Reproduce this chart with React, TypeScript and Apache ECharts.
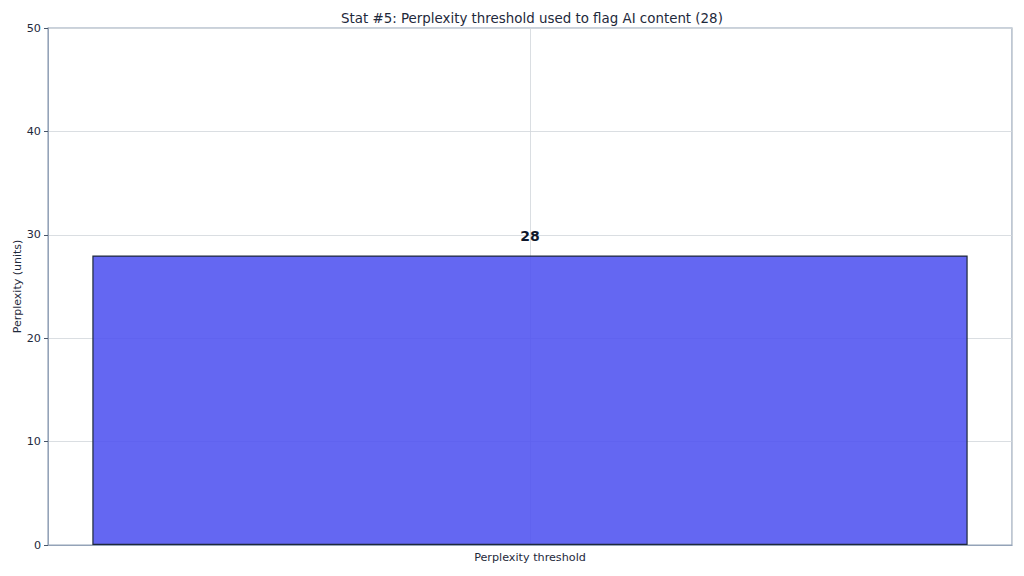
import { useEffect, useRef } from "react"
import * as echarts from "echarts"

const categories = ["Perplexity threshold"]
const values = [28]
const yTicks = { min: 0, max: 50, interval: 10 }

export default function App() {
  const chartRef = useRef<HTMLDivElement>(null)

  useEffect(() => {
    if (!chartRef.current) return
    const chart = echarts.init(chartRef.current, null, { renderer: "svg" })

    const font = "DejaVu Sans, sans-serif"
    const textColor = "#1e293b"

    chart.setOption({
      animation: false,
      textStyle: { fontFamily: font },
      title: {
        text: "Stat #5: Perplexity threshold used to flag AI content (28)",
        left: 336,
        top: 7,
        textStyle: { fontSize: 13.4, fontWeight: "normal", color: textColor, fontFamily: font }
      },
      grid: {
        left: 48,
        right: 12,
        top: 28,
        bottom: 31,
        outerBoundsMode: "none",
        containLabel: false,
        show: true,
        borderColor: "#94a3b8",
        borderWidth: 1.2
      },
      xAxis: [
        {
          type: "category",
          data: categories,
          axisLine: { onZero: false, lineStyle: { color: "#94a3b8" } },
          axisTick: { alignWithLabel: true, length: 4, lineStyle: { color: "#475569" } },
          axisLabel: { fontSize: 11.2, color: textColor, margin: 7 },
          splitLine: { show: false }
        },
        {
          type: "value",
          min: -1,
          max: 1,
          interval: 1,
          show: true,
          position: "bottom",
          axisLine: { show: false, onZero: false },
          axisTick: { show: false },
          axisLabel: { show: false },
          splitLine: { show: true, lineStyle: { color: "#d1d5db", width: 0.8 } }
        }
      ],
      yAxis: {
        type: "value",
        min: yTicks.min,
        max: yTicks.max,
        interval: yTicks.interval,
        name: "Perplexity (units)",
        nameLocation: "middle",
        nameGap: 25,
        nameMoveOverlap: false,
        nameTextStyle: { fontSize: 11, color: textColor },
        axisLine: { show: true, onZero: false, lineStyle: { color: "#94a3b8" } },
        axisTick: { show: true, length: 4, lineStyle: { color: "#475569" } },
        axisLabel: { fontSize: 11.2, color: textColor, margin: 7 },
        splitLine: { show: true, lineStyle: { color: "#d1d5db", width: 0.8 } }
      },
      series: [
        {
          type: "bar",
          xAxisIndex: 0,
          data: values,
          barWidth: "90.8%",
          itemStyle: {
            color: "rgba(79, 82, 240, 0.88)",
            borderColor: "#1e293b",
            borderWidth: 1.2
          },
          label: {
            show: true,
            position: "top",
            distance: 12,
            fontSize: 14,
            fontWeight: "bold",
            color: "#0f172a"
          },
          z: 1
        }
      ]
    })

    return () => {
      chart.dispose()
    }
  }, [])

  return (
    <div
      ref={chartRef}
      style={{ position: "fixed", left: 0, top: 0, width: 1024, height: 576, background: "#fff" }}
    />
  )
}
